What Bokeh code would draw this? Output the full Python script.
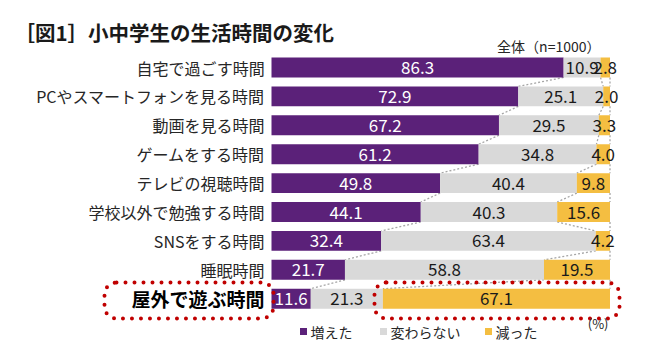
from bokeh.plotting import figure
from bokeh.models import Range1d, ColumnDataSource, Label
from bokeh.core.properties import value
from bokeh.embed import file_html
from bokeh.resources import INLINE

# ---- data ----
categories = ["自宅で過ごす時間", "PCやスマートフォンを見る時間", "動画を見る時間",
              "ゲームをする時間", "テレビの視聴時間", "学校以外で勉強する時間",
              "SNSをする時間", "睡眠時間", "屋外で遊ぶ時間"]
increased = [86.3, 72.9, 67.2, 61.2, 49.8, 44.1, 32.4, 21.7, 11.6]
unchanged = [10.9, 25.1, 29.5, 34.8, 40.4, 40.3, 63.4, 58.8, 21.3]
decreased = [2.8, 2.0, 3.3, 4.0, 9.8, 15.6, 4.2, 19.5, 67.1]
series_names = ["増えた", "変わらない", "減った"]
title_text = "［図1］小中学生の生活時間の変化"
sample_text = "全体（n=1000）"
unit_text = "(%)"

# ---- style ----
COLORS = ["#5B2179", "#D9D9D9", "#F4BE41"]
LABEL_COLORS = ["white", "#1a1a1a", "#1a1a1a"]
FONT = "Noto Sans CJK JP"
W, H = 650, 361
PX_PER_UNIT = 3.385      # pixels per percent
X0_PX = 271              # px of 0 %
ROW_PX = 28.9            # pixels per row
ROW0_PX = 67             # px of first row centre

def fx(px):
    return (px - X0_PX) / PX_PER_UNIT

def fy(py):
    return (py - ROW0_PX) / ROW_PX

p = figure(width=W, height=H, min_border=0, toolbar_location=None,
           output_backend="svg", x_axis_location=None, y_axis_location=None,
           x_range=Range1d(fx(0), fx(W)),
           y_range=Range1d(fy(H), fy(0)))
p.outline_line_color = None
p.grid.visible = False
p.background_fill_color = "white"

n = len(categories)
idx = list(range(n))
series = [increased, unchanged, decreased]
lefts = []
cum = [0.0] * n
for s in series:
    lefts.append(list(cum))
    cum = [c + v for c, v in zip(cum, s)]

BAR_H = 0.69

# connector dotted lines (series lines)
for k in range(3):
    ends = [lefts[k][i] + series[k][i] for i in range(n)]
    p.segment(x0=ends[:-1], y0=[i + BAR_H / 2 for i in idx[:-1]],
              x1=ends[1:], y1=[i + 1 - BAR_H / 2 for i in idx[:-1]],
              line_color="#A6A6A6", line_width=1.3, line_dash="2 2")

# bars
for k in range(3):
    src = ColumnDataSource(dict(y=idx, left=lefts[k],
                                right=[l + v for l, v in zip(lefts[k], series[k])],
                                mid=[l + v / 2 for l, v in zip(lefts[k], series[k])],
                                txt=[f"{v:.1f}" for v in series[k]]))
    p.hbar(y="y", left="left", right="right", height=BAR_H, source=src,
           fill_color=COLORS[k], line_color=None)
    p.text(x="mid", y="y", text="txt", source=src, text_align="center",
           text_baseline="middle", text_font=value(FONT), text_font_size="17px",
           text_color=LABEL_COLORS[k])

# category labels
for i, c in enumerate(categories):
    last = i == n - 1
    p.add_layout(Label(x=fx(264), y=i, text=c, text_align="right",
                       text_baseline="middle", text_font=FONT,
                       text_font_size="19px" if last else "16px",
                       text_font_style="bold" if last else "normal",
                       text_color="#000000" if last else "#262626"))

# red dotted highlight boxes
p.quad(left=[fx(104), fx(374)], right=[fx(273), fx(619)],
       top=[fy(282), fy(282)], bottom=[fy(318), fy(318)],
       fill_color=None, line_color="#C00000", line_width=4,
       line_dash="0 9", line_cap="round", border_radius=12)

# title and notes
p.add_layout(Label(x=fx(14), y=fy(31), text=title_text, text_align="left",
                   text_baseline="middle", text_font=FONT, text_font_size="20.5px",
                   text_font_style="bold", text_color="#1a1a1a"))
p.add_layout(Label(x=fx(600), y=fy(45), text=sample_text, text_align="right",
                   text_baseline="middle", text_font=FONT, text_font_size="14px",
                   text_color="#262626"))
p.add_layout(Label(x=fx(608), y=fy(323), text=unit_text, text_align="right",
                   text_baseline="middle", text_font=FONT, text_font_size="13px",
                   text_color="#262626"))

# legend
sq_x = [303, 383, 488]
for k in range(3):
    p.scatter(x=[fx(sq_x[k])], y=[fy(331)], marker="square", size=7,
              fill_color=COLORS[k], line_color=None)
    p.add_layout(Label(x=fx(sq_x[k] + 7), y=fy(331), text=series_names[k],
                       text_align="left", text_baseline="middle", text_font=FONT,
                       text_font_size="14px", text_color="#262626"))

open("out.html", "w").write(file_html(p, INLINE))
